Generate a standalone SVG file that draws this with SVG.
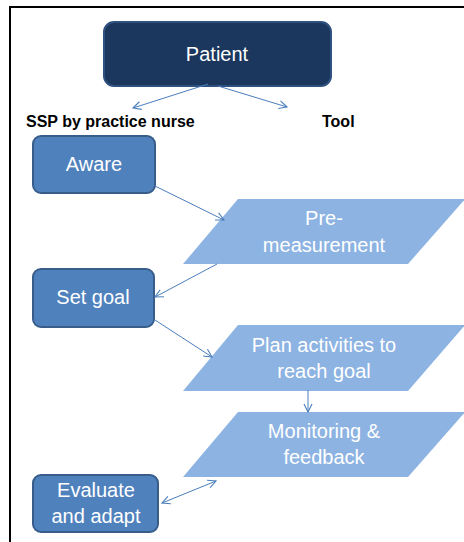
<svg xmlns="http://www.w3.org/2000/svg" width="464" height="542" viewBox="0 0 464 542">
  <defs>
    <marker id="open" markerUnits="userSpaceOnUse" markerWidth="12" markerHeight="12" refX="9" refY="5" orient="auto-start-reverse" viewBox="0 0 12 10">
      <path d="M1,1 L9,5 L1,9" fill="none" stroke="#4a7ebb" stroke-width="1.1"/>
    </marker>
  </defs>
  <style>
    .lbl { font-family: "Liberation Sans", Arial, sans-serif; font-size: 20px; fill: #ffffff; text-anchor: middle; }
    .head { font-family: "Liberation Sans", Arial, sans-serif; font-size: 16px; font-weight: bold; fill: #000000; }
    .step { fill: #4f81bd; stroke: #385d8a; stroke-width: 2; }
    .tool { fill: #8db3e2; }
    .conn { fill: none; stroke: #4a7ebb; stroke-width: 1; marker-end: url(#open); }
  </style>

  <rect width="464" height="542" fill="#ffffff"/>
  <!-- outer frame -->
  <rect x="10" y="7" width="470" height="560" fill="none" stroke="#000000" stroke-width="2"/>

  <!-- column headings -->
  <text class="head" x="26" y="127">SSP by practice nurse</text>
  <text class="head" x="322" y="127">Tool</text>

  <g id="patient">
    <rect x="104" y="22" width="227" height="64" rx="10" fill="#1b375d" stroke="#2f5180" stroke-width="2"/>
    <text class="lbl" x="217" y="61">Patient</text>
  </g>

  <g id="aware">
    <rect class="step" x="33" y="136" width="122" height="57" rx="8"/>
    <text class="lbl" x="94" y="171">Aware</text>
  </g>

  <g id="pre-measurement">
    <polygon class="tool" points="238,199 465,199 408,264 183,264"/>
    <text class="lbl" x="324" y="225">Pre-</text>
    <text class="lbl" x="324" y="252">measurement</text>
  </g>

  <g id="set-goal">
    <rect class="step" x="33" y="269" width="121" height="58" rx="8"/>
    <text class="lbl" x="93" y="304">Set goal</text>
  </g>

  <g id="plan-activities">
    <polygon class="tool" points="238,325 465,325 408,391 183,391"/>
    <text class="lbl" x="324" y="352">Plan activities to</text>
    <text class="lbl" x="324" y="378">reach goal</text>
  </g>

  <g id="monitoring">
    <polygon class="tool" points="238,412 465,412 408,477 183,477"/>
    <text class="lbl" x="324" y="438">Monitoring &amp;</text>
    <text class="lbl" x="324" y="464">feedback</text>
  </g>

  <g id="evaluate">
    <rect class="step" x="33" y="475" width="125" height="57" rx="8"/>
    <text class="lbl" x="96" y="497">Evaluate</text>
    <text class="lbl" x="96" y="523">and adapt</text>
  </g>

  <g id="connectors">
    <line class="conn" x1="208" y1="84" x2="133" y2="108"/>
    <line class="conn" x1="218" y1="86" x2="287" y2="107"/>
    <line class="conn" x1="155" y1="186" x2="224" y2="220"/>
    <line class="conn" x1="217" y1="264" x2="155" y2="297"/>
    <line class="conn" x1="155" y1="320" x2="212" y2="357"/>
    <line class="conn" x1="308" y1="390" x2="308" y2="412"/>
    <line class="conn" x1="162" y1="503" x2="216" y2="481" marker-start="url(#open)"/>
  </g>
</svg>
